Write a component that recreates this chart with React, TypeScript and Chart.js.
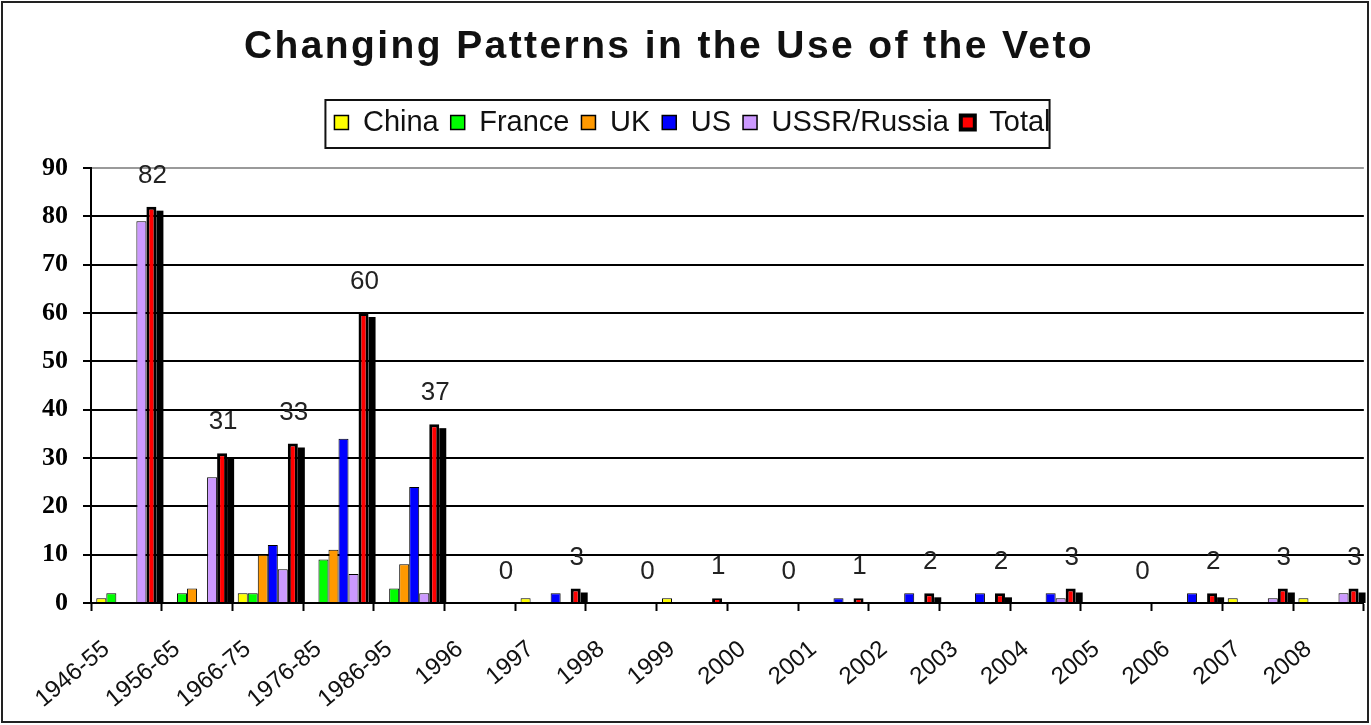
import React, { useEffect, useRef } from 'react';
import { Chart, registerables } from 'chart.js';

Chart.register(...registerables);

// ---- data ----
const categories = [
  '1946-55', '1956-65', '1966-75', '1976-85', '1986-95',
  '1996', '1997', '1998', '1999', '2000', '2001', '2002',
  '2003', '2004', '2005', '2006', '2007', '2008',
];
const china = [1, 0, 2, 0, 0, 0, 1, 0, 1, 0, 0, 0, 0, 0, 0, 0, 1, 1];
const france = [2, 2, 2, 9, 3, 0, 0, 0, 0, 0, 0, 0, 0, 0, 0, 0, 0, 0];
const uk = [0, 3, 10, 11, 8, 0, 0, 0, 0, 0, 0, 0, 0, 0, 0, 0, 0, 0];
const us = [0, 0, 12, 34, 24, 0, 2, 0, 0, 0, 1, 2, 2, 2, 0, 2, 0, 0];
const ussrRussia = [79, 26, 7, 6, 2, 0, 0, 0, 0, 0, 0, 0, 0, 1, 0, 0, 1, 2];
const total = [82, 31, 33, 60, 37, 0, 3, 0, 1, 0, 1, 2, 2, 3, 0, 2, 3, 3];

const seriesNames = ['China', 'France', 'UK', 'US', 'USSR/Russia', 'Total'];
const seriesValues = [china, france, uk, us, ussrRussia, total];
const seriesColors = ['#FFFF00', '#00FF00', '#FF9900', '#0000FF', '#CC99FF', '#FF0000'];

const titleText = 'Changing Patterns in the Use of the Veto';
const yMin = 0;
const yMax = 90;
const yStep = 10;

// ---- layout ----
const W = 1371;
const H = 725;
const PLOT_LEFT = 91;
const PLOT_BOTTOM = 603;
const PAD_LEFT = 14;
const TOTAL_INDEX = 5;

const SANS = "'Liberation Sans', Arial, sans-serif";
const SERIF = "'Liberation Serif', 'Times New Roman', serif";

export default function App() {
  const canvasRef = useRef<HTMLCanvasElement | null>(null);

  useEffect(() => {
    document.body.style.margin = '0';
    const canvas = canvasRef.current;
    if (!canvas) return;

    const titlePlugin = {
      id: 'customTitle',
      afterDraw(chart: any) {
        const ctx = chart.ctx;
        ctx.save();
        ctx.font = `bold 39px ${SANS}`;
        try { (ctx as any).letterSpacing = '2.4px'; } catch (e) { /* ignore */ }
        ctx.fillStyle = '#111';
        ctx.textAlign = 'center';
        ctx.textBaseline = 'alphabetic';
        ctx.fillText(titleText, 669, 58);
        ctx.restore();
      },
    };

    const totalsPlugin = {
      id: 'totalsDecor',
      afterDatasetsDraw(chart: any) {
        const ctx = chart.ctx;
        const meta = chart.getDatasetMeta(TOTAL_INDEX);
        const base = chart.scales.y.getPixelForValue(0);
        ctx.save();
        ctx.fillStyle = '#000';
        meta.data.forEach((el: any, i: number) => {
          const v = total[i];
          if (v > 0) {
            const right = el.x + el.width / 2;
            ctx.fillRect(right, el.y + 4, 7, base - el.y - 4);
          }
        });
        ctx.fillStyle = '#222';
        ctx.font = `26px ${SANS}`;
        ctx.textAlign = 'center';
        ctx.textBaseline = 'alphabetic';
        meta.data.forEach((el: any, i: number) => {
          ctx.fillText(String(total[i]), el.x + 1, el.y - 24);
        });
        ctx.restore();
      },
    };

    const framePlugin = {
      id: 'frames',
      afterDraw(chart: any) {
        const ctx = chart.ctx;
        ctx.save();
        // legend border
        const hb = chart.legend && chart.legend.legendHitBoxes;
        if (hb && hb.length) {
          const first = hb[0];
          const last = hb[hb.length - 1];
          const left = first.left - 9;
          const right = last.left + last.width - 1;
          const top = first.top - 8;
          const bottom = first.top + first.height + 11;
          ctx.strokeStyle = '#111';
          ctx.lineWidth = 2;
          ctx.strokeRect(left, top, right - left, bottom - top);
        }
        // outer chart border
        ctx.strokeStyle = '#222';
        ctx.lineWidth = 2;
        ctx.strokeRect(2, 2, 1366, 720);
        ctx.restore();
      },
    };

    const chart = new Chart(canvas, {
      type: 'bar',
      data: {
        labels: categories,
        datasets: seriesNames.map((name, i) => ({
          label: name,
          data: seriesValues[i],
          backgroundColor: seriesColors[i],
          borderColor: '#000',
          borderWidth: (c: any) => (c.raw === 0 ? 0 : i === TOTAL_INDEX ? 3 : 1),
          borderSkipped: 'start',
          inflateAmount: 0,
          categoryPercentage: 0.85,
          barPercentage: 1,
        })),
      },
      options: {
        animation: false,
        responsive: false,
        devicePixelRatio: 1,
        layout: { padding: { top: 96, left: PAD_LEFT, right: 0, bottom: 0 } },
        plugins: {
          title: { display: false },
          subtitle: {
            display: true,
            text: '',
            position: 'top',
            weight: 500,
            font: { size: 10, lineHeight: 1 },
            padding: { top: 0, bottom: 11 },
          },
          legend: {
            position: 'top',
            labels: {
              boxWidth: 14,
              boxHeight: 14,
              padding: 12,
              color: '#111',
              font: { family: SANS, size: 29 },
              generateLabels: (ch: any) =>
                Chart.defaults.plugins.legend.labels.generateLabels(ch).map((l: any) => ({
                  ...l,
                  lineWidth: l.datasetIndex === TOTAL_INDEX ? 4 : 1.5,
                  strokeStyle: '#000',
                })),
            },
          },
          tooltip: { enabled: false },
        },
        scales: {
          x: {
            offset: true,
            grid: {
              offset: true,
              drawOnChartArea: false,
              drawTicks: true,
              tickLength: 8,
              tickColor: '#000',
              tickWidth: 2,
              color: '#000',
            },
            border: { display: true, color: '#000', width: 2 },
            ticks: {
              autoSkip: false,
              minRotation: 40,
              maxRotation: 40,
              labelOffset: -20,
              padding: 24,
              color: '#111',
              font: { family: SANS, size: 24 },
            },
            afterFit: (s: any) => { s.height = H - PLOT_BOTTOM; },
          },
          y: {
            min: yMin,
            max: yMax,
            ticks: {
              stepSize: yStep,
              padding: 15,
              color: '#000',
              font: { family: SERIF, size: 26, weight: 'bold' },
            },
            grid: {
              color: (c: any) => (c.tick && c.tick.value === yMax ? '#9a9a9a' : '#000'),
              lineWidth: 2,
              tickLength: 8,
              tickColor: '#000',
              tickWidth: 2,
            },
            border: { display: true, color: '#000', width: 2 },
            afterFit: (s: any) => { s.width = PLOT_LEFT - PAD_LEFT; },
          },
        },
      } as any,
      plugins: [titlePlugin, totalsPlugin, framePlugin],
    });

    return () => chart.destroy();
  }, []);

  return (
    <div style={{ width: W, height: H, background: '#fff' }}>
      <canvas ref={canvasRef} width={W} height={H} style={{ display: 'block' }} />
    </div>
  );
}
